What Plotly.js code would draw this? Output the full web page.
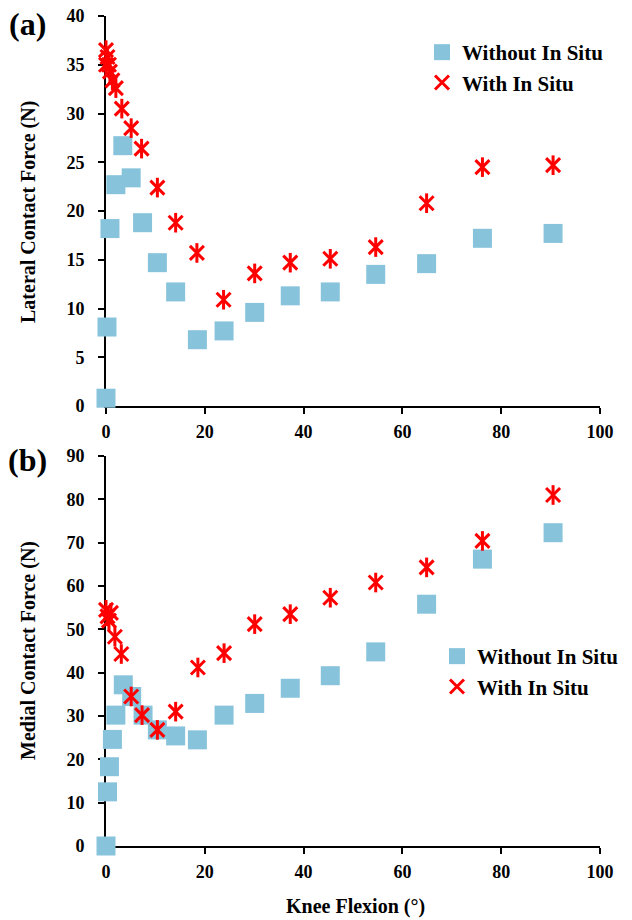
<!DOCTYPE html>
<html>
<head>
<meta charset="utf-8">
<script src="https://cdn.plot.ly/plotly-3.0.1.min.js"></script>
<style>html,body{margin:0;padding:0;background:#fff;}#chart{width:632px;height:920px;}</style>
</head>
<body>
<div id="chart"></div>
<script>
// ---- Data ----
const seriesNames = ["Without In Situ", "With In Situ"];
const xTicks = [0, 20, 40, 60, 80, 100];

// (a) Lateral contact force
const latWithoutX = [0, 0.2, 0.8, 2.0, 3.4, 5.1, 7.4, 10.4, 14.1, 18.5, 23.9, 30.1, 37.3, 45.4, 54.6, 64.9, 76.2, 90.5];
const latWithoutY = [0.8, 8.1, 18.2, 22.7, 26.7, 23.4, 18.8, 14.7, 11.7, 6.8, 7.7, 9.6, 11.3, 11.7, 13.5, 14.6, 17.2, 17.7];
const latWithX = [0, 0.3, 0, 0.6, 0.8, 1.3, 2.0, 3.2, 5.1, 7.2, 10.4, 14.1, 18.4, 23.8, 30.1, 37.3, 45.4, 54.6, 64.9, 76.2, 90.5];
const latWithY = [36.5, 35.8, 35.0, 35.0, 34.3, 33.4, 32.6, 30.5, 28.5, 26.4, 22.4, 18.8, 15.7, 10.9, 13.6, 14.7, 15.1, 16.3, 20.8, 24.5, 24.7];

// (b) Medial contact force
const medWithoutX = [0, 0.3, 0.7, 1.3, 2.0, 3.5, 5.2, 7.5, 10.4, 14.1, 18.5, 23.9, 30.1, 37.3, 45.4, 54.6, 64.9, 76.2, 90.5];
const medWithoutY = [0, 12.5, 18.3, 24.6, 30.2, 37.2, 34.5, 30.2, 26.8, 25.4, 24.5, 30.2, 32.9, 36.4, 39.3, 44.8, 55.8, 66.2, 72.3];
const medWithX = [0, 0.3, 0.6, 1.0, 1.8, 3.1, 5.1, 7.3, 10.4, 14.1, 18.6, 23.9, 30.1, 37.3, 45.4, 54.6, 64.9, 76.2, 90.5];
const medWithY = [54.5, 53.0, 52.0, 53.8, 48.3, 44.3, 34.5, 30.2, 26.8, 31.0, 41.2, 44.5, 51.2, 53.5, 57.3, 60.8, 64.3, 70.4, 81.0];

// ---- Styling ----
const W = 632, H = 920;
const px = v => v / W;
const py = v => 1 - v / H;
const FONT = 'Liberation Serif, Times New Roman, serif';
const BLUE = '#88C3DC';
const RED = '#FF0000';

function squares(x, y, xa, ya, leg) {
  return {x: x, y: y, type: 'scatter', mode: 'markers', name: seriesNames[0],
    xaxis: xa, yaxis: ya, legend: leg, cliponaxis: false,
    marker: {symbol: 'square', size: 19, color: BLUE}};
}
function stars(x, y, xa, ya, leg) {
  return [
    {x: x, y: y, type: 'scatter', mode: 'markers', name: seriesNames[1],
      xaxis: xa, yaxis: ya, legend: leg, cliponaxis: false,
      marker: {symbol: 'x-thin-open', size: 14, color: RED, line: {color: RED, width: 3}}},
    {x: x, y: y, type: 'scatter', mode: 'markers', name: seriesNames[1],
      xaxis: xa, yaxis: ya, showlegend: false, cliponaxis: false, hoverinfo: 'skip',
      marker: {symbol: 'line-ns-open', size: 14, color: RED, line: {color: RED, width: 3}}}
  ];
}

const data = [
  squares(latWithoutX, latWithoutY, 'x', 'y', 'legend'),
  ...stars(latWithX, latWithY, 'x', 'y', 'legend'),
  squares(medWithoutX, medWithoutY, 'x2', 'y2', 'legend2'),
  ...stars(medWithX, medWithY, 'x2', 'y2', 'legend2')
];

const tickFont = {family: FONT, size: 18, color: '#000', weight: 'bold'};
const baseAxis = {
  showgrid: false, zeroline: false, showline: true, linecolor: '#000', linewidth: 2,
  ticks: 'outside', ticklen: 6, tickwidth: 2, tickcolor: '#000',
  tickfont: tickFont, layer: 'below traces', fixedrange: true
};
const xDom = [px(106), px(600)];
const xAx = Object.assign({}, baseAxis, {domain: xDom, range: [0, 100], tickvals: xTicks, ticklabelstandoff: 2});
const innerX = {showgrid: false, zeroline: false, showline: false, ticks: 'inside', ticklen: 6, tickwidth: 2,
  tickcolor: '#000', showticklabels: false, range: [0, 100], tickvals: xTicks, fixedrange: true};

function ann(text, x, y, size, angle) {
  return {text: text, xref: 'paper', yref: 'paper', x: px(x), y: py(y), xanchor: 'center', yanchor: 'middle',
    textangle: angle || 0, showarrow: false, font: {family: FONT, size: size, color: '#000', weight: 'bold'}};
}

const layout = {
  width: W, height: H,
  margin: {l: 0, r: 0, t: 0, b: 0},
  paper_bgcolor: '#fff', plot_bgcolor: '#fff',
  font: {family: FONT, color: '#000'},
  showlegend: true,
  xaxis: Object.assign({}, xAx, {anchor: 'y'}),
  yaxis: Object.assign({}, baseAxis, {domain: [py(406), py(16)], range: [0, 40], dtick: 5, anchor: 'x', ticklabelstandoff: 10}),
  xaxis2: Object.assign({}, xAx, {anchor: 'y2'}),
  yaxis2: Object.assign({}, baseAxis, {domain: [py(846), py(456)], range: [0, 90], dtick: 10, anchor: 'x2', ticklabelstandoff: 10}),
  xaxis3: Object.assign({}, innerX, {overlaying: 'x', anchor: 'y'}),
  yaxis3: {overlaying: 'y', anchor: 'x', showgrid: false, zeroline: false, showline: false, ticks: 'inside', ticklen: 6,
    tickwidth: 2, tickcolor: '#000', showticklabels: false, range: [0, 40], dtick: 5, fixedrange: true},
  xaxis4: Object.assign({}, innerX, {overlaying: 'x2', anchor: 'y2'}),
  yaxis4: {overlaying: 'y2', anchor: 'x2', showgrid: false, zeroline: false, showline: false, ticks: 'inside', ticklen: 6,
    tickwidth: 2, tickcolor: '#000', showticklabels: false, range: [0, 90], dtick: 10, fixedrange: true},
  legend: {x: px(422), y: py(32), xanchor: 'left', yanchor: 'top', bgcolor: 'rgba(0,0,0,0)',
    font: {family: FONT, size: 21, color: '#000', weight: 'bold'}, tracegroupgap: 0},
  legend2: {x: px(437), y: py(636), xanchor: 'left', yanchor: 'top', bgcolor: 'rgba(0,0,0,0)',
    font: {family: FONT, size: 21, color: '#000', weight: 'bold'}, tracegroupgap: 0},
  annotations: [
    ann('(a)', 27, 24, 32),
    ann('(b)', 27, 460, 32),
    ann('Lateral Contact Force (N)', 28, 212, 20, -90),
    ann('Medial Contact Force (N)', 28, 651, 20, -90),
    ann('Knee Flexion (°)', 355, 906, 20)
  ]
};

Plotly.newPlot('chart', data, layout, {displayModeBar: false, staticPlot: true});
</script>
</body>
</html>
